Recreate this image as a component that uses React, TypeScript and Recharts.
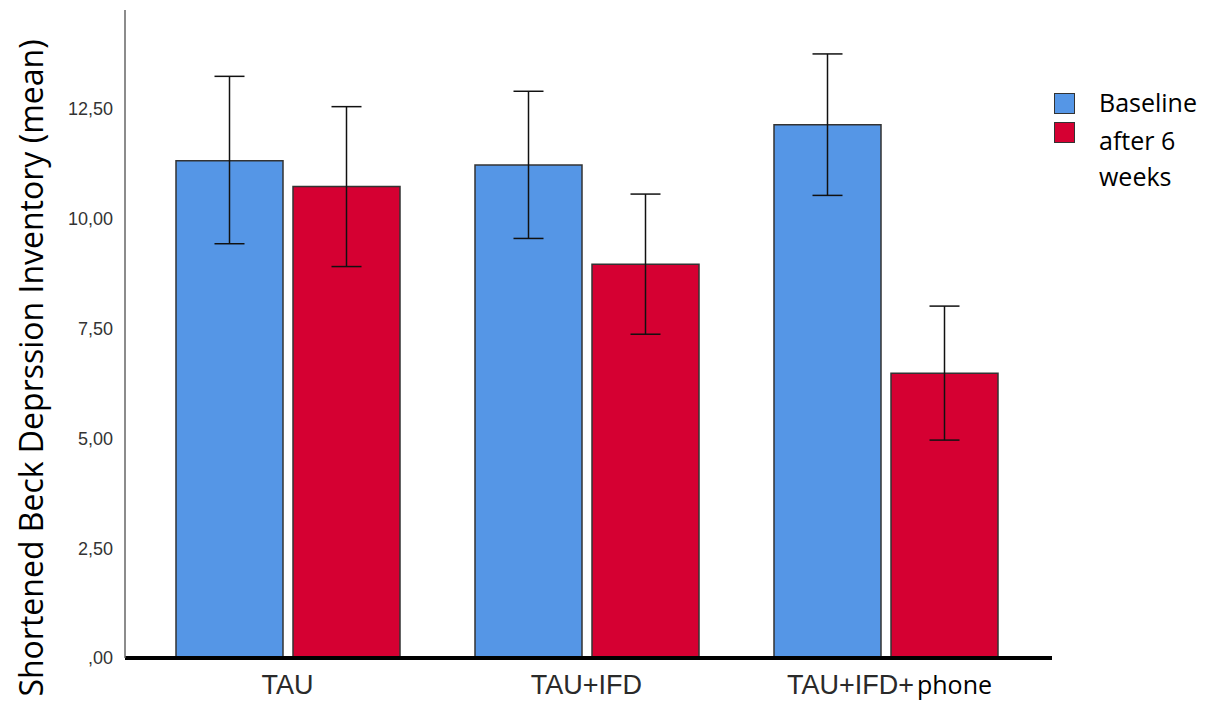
import React from "react";
import { BarChart, Bar, XAxis, YAxis, ErrorBar } from "recharts";

const categories = ["TAU", "TAU+IFD", "TAU+IFD+phone"];
const baselineMean = [11.32, 11.22, 12.14];
const baselineLow = [9.43, 9.55, 10.53];
const baselineHigh = [13.24, 12.9, 13.75];
const afterMean = [10.73, 8.96, 6.48];
const afterLow = [8.91, 7.37, 4.96];
const afterHigh = [12.55, 10.56, 8.01];
const yTicks = [0, 2.5, 5, 7.5, 10, 12.5];
const yLabel = "Shortened Beck Deprssion Inventory (mean)";
const legendLabels = ["Baseline", "after 6", "weeks"];

const BLUE = "#5596E6";
const RED = "#D50032";

const data = categories.map((c, i) => ({
  name: c,
  baseline: baselineMean[i],
  baselineErr: [baselineMean[i] - baselineLow[i], baselineHigh[i] - baselineMean[i]],
  after: afterMean[i],
  afterErr: [afterMean[i] - afterLow[i], afterHigh[i] - afterMean[i]],
}));

const fmt = (v: number) => {
  const s = v.toFixed(2).replace(".", ",");
  return s.startsWith("0,") ? s.slice(1) : s;
};

const ARIAL = "'Liberation Sans', Arial, sans-serif";
const CAL = "'Open Sans', Calibri, sans-serif";

const XTick = (props: any) => {
  const { x, payload } = props;
  const v: string = payload.value;
  if (v === "TAU+IFD+phone") {
    return (
      <text x={x + 4} y={694} textAnchor="middle">
        <tspan fontFamily={ARIAL} fontSize={27} fill="#2a2a2a">TAU+IFD+</tspan>
        <tspan fontFamily={CAL} fontSize={25} fill="#000" dx={3}>phone</tspan>
      </text>
    );
  }
  return (
    <text x={x} y={694} textAnchor="middle" fontFamily={ARIAL} fontSize={27} fill="#2a2a2a">
      {v}
    </text>
  );
};

const YLabel = () => (
  <text
    x={43}
    y={368}
    transform="rotate(-90, 43, 368)"
    textAnchor="middle"
    fontFamily={CAL}
    fontSize={32}
    fill="#000"
  >
    {yLabel}
  </text>
);

const LegendBox = () => (
  <div
    style={{
      position: "absolute",
      left: 1054,
      top: 83,
      width: 154,
      fontFamily: CAL,
      fontSize: 25,
      lineHeight: "38px",
      color: "#000",
    }}
  >
    <div style={{ position: "absolute", left: 0, top: 10, width: 19, height: 19, background: BLUE, border: "1.5px solid #333" }} />
    <div style={{ position: "absolute", left: 0, top: 39, width: 19, height: 19, background: RED, border: "1.5px solid #333" }} />
    <div style={{ position: "absolute", left: 45, top: 0, whiteSpace: "nowrap" }}>
      <div>{legendLabels[0]}</div>
      <div>{legendLabels[1]}</div>
      <div style={{ marginTop: -2 }}>{legendLabels[2]}</div>
    </div>
  </div>
);

export default function App() {
  return (
    <div style={{ position: "absolute", left: 0, top: 0, width: 1208, height: 703, background: "#fff" }}>
      <BarChart
        width={1208}
        height={703}
        data={data}
        margin={{ top: 10, right: 156, left: 0, bottom: 0 }}
        barSize={107}
        barGap={10}
      >
        <XAxis
          dataKey="name"
          height={45}
          tick={<XTick />}
          tickLine={false}
          axisLine={{ stroke: "#000", strokeWidth: 4 }}
          padding={{ left: 13, right: 17 }}
          interval={0}
        />
        <YAxis
          width={125}
          domain={[0, 14.75]}
          ticks={yTicks}
          tickFormatter={fmt}
          tickLine={false}
          axisLine={{ stroke: "#666", strokeWidth: 1.5 }}
          tick={{ fontFamily: ARIAL, fontSize: 18, fill: "#333" }}
          tickMargin={6}
          allowDataOverflow
          label={{ content: () => <YLabel /> }}
        />
        <Bar dataKey="baseline" fill={BLUE} stroke="#333" strokeWidth={1.5} isAnimationActive={false}>
          <ErrorBar dataKey="baselineErr" width={15} stroke="#111" strokeWidth={1.5} isAnimationActive={false} />
        </Bar>
        <Bar dataKey="after" fill={RED} stroke="#333" strokeWidth={1.5} isAnimationActive={false}>
          <ErrorBar dataKey="afterErr" width={15} stroke="#111" strokeWidth={1.5} isAnimationActive={false} />
        </Bar>
      </BarChart>
      <LegendBox />
    </div>
  );
}
